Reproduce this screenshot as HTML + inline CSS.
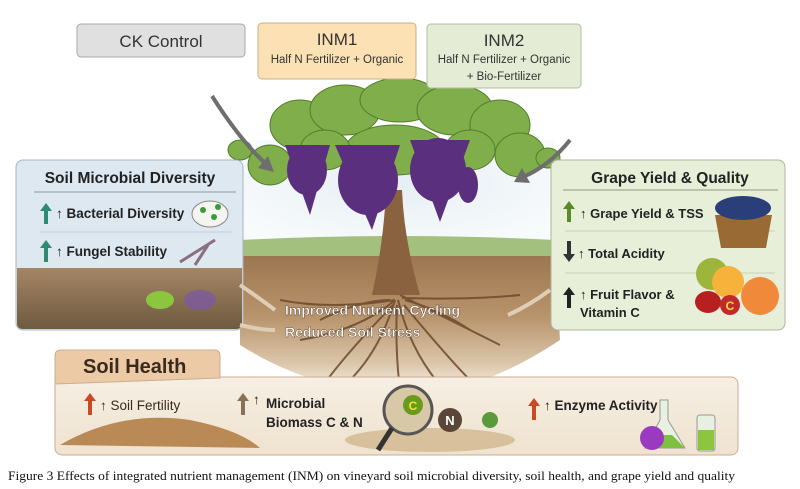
<!DOCTYPE html>
<html><head><meta charset="utf-8"><style>
html,body{margin:0;padding:0;background:#fff;width:800px;height:489px;overflow:hidden}
svg text{font-family:"Liberation Sans",sans-serif}
</style></head><body>
<svg width="800" height="489" viewBox="0 0 800 489" xmlns="http://www.w3.org/2000/svg">
<defs>
<radialGradient id="sky" cx="0.5" cy="0.4" r="0.6"><stop offset="0" stop-color="#e6eef4"/><stop offset="1" stop-color="#f8fbfc"/></radialGradient>
<linearGradient id="soil" x1="0" y1="0" x2="0" y2="1"><stop offset="0" stop-color="#9c7650"/><stop offset="0.45" stop-color="#b8946c"/><stop offset="0.8" stop-color="#dcc7ac"/><stop offset="1" stop-color="#f8f3ec"/></linearGradient>
<linearGradient id="lsoil" x1="0" y1="0" x2="0" y2="1"><stop offset="0" stop-color="#a48665"/><stop offset="1" stop-color="#6f5a40"/></linearGradient>
<linearGradient id="shb" x1="0" y1="0" x2="0" y2="1"><stop offset="0" stop-color="#f6efe3"/><stop offset="1" stop-color="#efe2cf"/></linearGradient>
</defs>
<rect x="240" y="140" width="315" height="110" fill="url(#sky)"/>
<path d="M240 240 Q400 232 555 240 L555 262 L240 262Z" fill="#a3c07f"/>
<path d="M240 256 L555 256 L560 340 Q470 400 400 390 Q320 395 240 345Z" fill="url(#soil)"/>
<g stroke="#6b4a2c" stroke-width="2" fill="none" opacity="0.85">
<path d="M395 300 Q360 330 300 340"/><path d="M395 300 Q380 350 350 380"/><path d="M398 300 Q410 350 440 385"/>
<path d="M400 295 Q450 320 500 345"/><path d="M395 300 Q330 310 280 300"/><path d="M402 298 Q470 300 520 295"/>
<path d="M397 305 Q395 350 400 390"/><path d="M393 305 Q340 360 320 390"/><path d="M404 305 Q450 360 470 380"/>
<path d="M390 300 Q360 300 320 320"/><path d="M405 300 Q440 310 470 330"/>
</g>
<path d="M386 190 Q384 240 372 295 L420 295 Q404 240 402 190Z" fill="#8a6240"/>
<g fill="#7fae4a" stroke="#557d2c" stroke-width="1">
<ellipse cx="300" cy="125" rx="30" ry="25"/><ellipse cx="345" cy="110" rx="35" ry="25"/><ellipse cx="400" cy="100" rx="40" ry="22"/><ellipse cx="455" cy="110" rx="38" ry="25"/><ellipse cx="500" cy="125" rx="30" ry="25"/>
<ellipse cx="270" cy="165" rx="22" ry="20"/><ellipse cx="520" cy="155" rx="25" ry="22"/><ellipse cx="395" cy="150" rx="50" ry="25"/>
<ellipse cx="325" cy="150" rx="25" ry="20"/><ellipse cx="470" cy="150" rx="25" ry="20"/>
<ellipse cx="240" cy="150" rx="12" ry="10"/><ellipse cx="548" cy="158" rx="12" ry="10"/>
</g>
<g fill="#5a2f7e">
<path d="M285 145 L330 145 L310 215Z"/><ellipse cx="307" cy="170" rx="20" ry="25"/>
<path d="M335 145 L400 145 L372 230Z"/><ellipse cx="368" cy="180" rx="30" ry="35"/>
<path d="M410 140 L470 140 L440 222Z"/><ellipse cx="438" cy="170" rx="28" ry="32"/>
<ellipse cx="468" cy="185" rx="10" ry="18"/>
</g>
<rect x="77" y="24" width="168" height="33" rx="4" fill="#e1e0e1" stroke="#a8a8a8"/>
<text x="161" y="47" font-size="17" text-anchor="middle" fill="#333">CK Control</text>
<rect x="258" y="23" width="158" height="56" rx="4" fill="#fbe1b3" stroke="#c8b08a"/>
<text x="337" y="45" font-size="17" text-anchor="middle" fill="#333">INM1</text>
<text x="337" y="63" font-size="11.5" text-anchor="middle" fill="#333">Half N Fertilizer + Organic</text>
<rect x="427" y="24" width="154" height="64" rx="4" fill="#e4ecd5" stroke="#b3bea3"/>
<text x="504" y="46" font-size="17" text-anchor="middle" fill="#333">INM2</text>
<text x="504" y="63" font-size="11.5" text-anchor="middle" fill="#333">Half N Fertilizer + Organic</text>
<text x="504" y="80" font-size="11.5" text-anchor="middle" fill="#333">+ Bio-Fertilizer</text>
<path d="M212 96 Q240 140 265 163" stroke="#6e6e6e" stroke-width="4" fill="none"/><path d="M258 168 L274 172 L268 156Z" fill="#6e6e6e"/>
<path d="M570 140 Q550 165 525 176" stroke="#6e6e6e" stroke-width="4" fill="none"/><path d="M522 168 L514 182 L530 183Z" fill="#6e6e6e"/>
<rect x="16" y="160" width="227" height="170" rx="7" fill="#dde8f1" stroke="#a8b4bf"/>
<path d="M17 268 L242 268 L242 323 Q242 329 236 329 L23 329 Q17 329 17 323Z" fill="url(#lsoil)"/>
<text x="130" y="183" font-size="15.5" font-weight="bold" text-anchor="middle" fill="#222">Soil Microbial Diversity</text>
<line x1="34" y1="192" x2="236" y2="192" stroke="#8a98a5"/>
<line x1="40" y1="232" x2="232" y2="232" stroke="#c4ced8"/>
<path d="M44 224 L44 211 L40 211 L46 203 L52 211 L48 211 L48 224Z" fill="#2e8a70"/>
<text x="56" y="218" font-size="13.5" font-weight="bold" fill="#222">↑ Bacterial Diversity</text>
<ellipse cx="210" cy="214" rx="18" ry="13" fill="#f4f4f0" stroke="#888"/>
<circle cx="203" cy="210" r="3" fill="#3a9a3a"/><circle cx="214" cy="217" r="3" fill="#3a9a3a"/><circle cx="218" cy="207" r="3" fill="#3a9a3a"/>
<path d="M44 262 L44 248 L40 248 L46 240 L52 248 L48 248 L48 262Z" fill="#2e8a70"/>
<text x="56" y="256" font-size="13.5" font-weight="bold" fill="#222">↑ Fungel Stability</text>
<path d="M180 262 L215 240 M195 265 L208 245" stroke="#8b6f80" stroke-width="3"/>
<ellipse cx="160" cy="300" rx="14" ry="9" fill="#8cc63f"/><ellipse cx="200" cy="300" rx="16" ry="10" fill="#7c5aa0" opacity="0.8"/>
<rect x="551" y="160" width="234" height="170" rx="7" fill="#e7efd9" stroke="#aab79b"/>
<text x="670" y="183" font-size="15.5" font-weight="bold" text-anchor="middle" fill="#222">Grape Yield &amp; Quality</text>
<line x1="563" y1="190" x2="778" y2="190" stroke="#8e9a80"/>
<line x1="565" y1="231" x2="775" y2="231" stroke="#c8d2b9"/>
<line x1="565" y1="273" x2="775" y2="273" stroke="#c8d2b9"/>
<path d="M567 222 L567 209 L563 209 L569 201 L575 209 L571 209 L571 222Z" fill="#5a8a2a"/>
<text x="580" y="218" font-size="13" font-weight="bold" fill="#222">↑ Grape Yield &amp; TSS</text>
<path d="M567 241 L567 254 L563 254 L569 262 L575 254 L571 254 L571 241Z" fill="#333"/>
<text x="578" y="258" font-size="13" font-weight="bold" fill="#222">↑ Total Acidity</text>
<path d="M567 308 L567 295 L563 295 L569 287 L575 295 L571 295 L571 308Z" fill="#222"/>
<text x="580" y="299" font-size="13" font-weight="bold" fill="#222">↑ Fruit Flavor &amp;</text>
<text x="580" y="317" font-size="13" font-weight="bold" fill="#222">Vitamin C</text>
<path d="M715 215 L772 215 L766 248 L721 248Z" fill="#9a6a35"/>
<ellipse cx="743" cy="208" rx="28" ry="12" fill="#2a3f7a"/>
<circle cx="712" cy="274" r="16" fill="#9cb53a"/><circle cx="728" cy="282" r="16" fill="#f6b23a"/>
<circle cx="760" cy="296" r="19" fill="#f08a3a"/><ellipse cx="708" cy="302" rx="13" ry="11" fill="#b82020"/>
<circle cx="730" cy="305" r="10" fill="#c02a2a"/><text x="730" y="310" font-size="12" font-weight="bold" text-anchor="middle" fill="#f7e040">C</text>
<path d="M240 285 Q262 300 275 310" stroke="#e0cdb6" stroke-width="4" fill="none"/>
<path d="M240 325 Q260 330 275 330" stroke="#e0cdb6" stroke-width="4" fill="none"/>
<path d="M550 290 Q530 305 508 315" stroke="#e0cdb6" stroke-width="4" fill="none"/>
<text x="285" y="315" font-size="14" font-weight="bold" fill="#fff" stroke="#5a4030" stroke-width="0.4">Improved Nutrient Cycling</text>
<text x="285" y="337" font-size="14" font-weight="bold" fill="#fff" stroke="#5a4030" stroke-width="0.4">Reduced Soil Stress</text>
<rect x="55" y="377" width="683" height="78" rx="7" fill="url(#shb)" stroke="#c9ad92"/>
<path d="M55 384 L55 356 Q55 350 61 350 L214 350 Q220 350 220 356 L220 378Z" fill="#eccaa6" stroke="#c9ad92"/>
<text x="83" y="373" font-size="20" font-weight="bold" fill="#3a2a1e">Soil Health</text>
<path d="M88 415 L88 401 L84 401 L90 393 L96 401 L92 401 L92 415Z" fill="#c84a24"/>
<text x="100" y="410" font-size="13.5" fill="#3a2a1e">↑ Soil Fertility</text>
<path d="M60 445 Q120 410 190 420 Q240 430 260 448Z" fill="#b98a55"/>
<path d="M241 415 L241 401 L237 401 L243 393 L249 401 L245 401 L245 415Z" fill="#8a7055"/>
<text x="253" y="404" font-size="13.5" fill="#222">↑</text>
<text x="266" y="408" font-size="13.5" font-weight="bold" fill="#222">Microbial</text>
<text x="266" y="427" font-size="13.5" font-weight="bold" fill="#222">Biomass C &amp; N</text>
<ellipse cx="430" cy="440" rx="85" ry="12" fill="#c8a878" opacity="0.6"/>
<circle cx="408" cy="410" r="24" fill="#d7c8a8" stroke="#555" stroke-width="3"/>
<line x1="392" y1="428" x2="378" y2="450" stroke="#333" stroke-width="5"/>
<circle cx="413" cy="405" r="10" fill="#6a9a1a"/><text x="413" y="410" font-size="12" font-weight="bold" text-anchor="middle" fill="#f4e040">C</text>
<circle cx="450" cy="420" r="12" fill="#5a4636"/><text x="450" y="425" font-size="13" font-weight="bold" text-anchor="middle" fill="#fff">N</text>
<circle cx="490" cy="420" r="8" fill="#5a9a3a"/>
<path d="M532 420 L532 406 L528 406 L534 398 L540 406 L536 406 L536 420Z" fill="#c84a24"/>
<text x="544" y="410" font-size="13.5" font-weight="bold" fill="#222">↑ Enzyme Activity</text>
<path d="M660 400 L668 400 L668 420 L685 448 L645 448 L660 420Z" fill="#e8f0e0" stroke="#999"/>
<path d="M655 435 L672 435 L685 448 L645 448Z" fill="#80c040"/>
<circle cx="652" cy="438" r="12" fill="#9a3ac0"/>
<rect x="697" y="415" width="18" height="36" rx="3" fill="#e8f0e0" stroke="#999"/><rect x="698" y="430" width="16" height="20" fill="#8cc63f"/>
<text x="8" y="480" font-size="12.5" fill="#111" style="font-family:'Liberation Serif',serif" textLength="727" lengthAdjust="spacingAndGlyphs">Figure 3 Effects of integrated nutrient management (INM) on vineyard soil microbial diversity, soil health, and grape yield and quality</text>
</svg>
</body></html>
